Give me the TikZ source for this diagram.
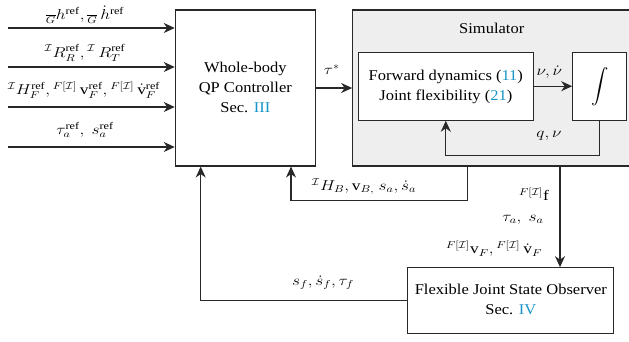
\documentclass[tikz,border=0pt]{standalone}
\usepackage{graphicx}
\usepackage{exscale}
\usepackage{fontspec}
\setmainfont{Liberation Serif}
\usetikzlibrary{arrows.meta,calc}
\definecolor{refblue}{RGB}{25,150,200}
\definecolor{simgray}{RGB}{238,238,238}
\definecolor{linec}{RGB}{40,40,40}
\newcommand{\rf}[1]{\textcolor{refblue}{#1}}
\newcommand{\cI}{\mathcal{I}}
\newcommand{\sx}[1]{\scalebox{1.2}[1]{#1}}
\newcommand{\tx}[1]{\scalebox{1.1}[1]{\begin{tabular}{@{}c@{}}#1\end{tabular}}}
\begin{document}
\begin{tikzpicture}[x=1pt,y=-1pt,
  every node/.style={font=\fontsize{15}{20}\selectfont, inner sep=0pt},
  box/.style={draw=linec, line width=1.1pt, fill=white, align=center},
  arr/.style={draw=linec, line width=1.1pt, -{Stealth[length=11pt,width=10pt,inset=3.5pt]}},
  lbl/.style={font=\fontsize{14.5}{18}\selectfont}]
\useasboundingbox (0,0) rectangle (629,341);
% blocks
\node[box, minimum width=140pt, minimum height=156pt] (ctrl) at (245.3,88) {\tx{Whole-body\\QP Controller\\Sec. \rf{III}}};
\node[box, fill=simgray, minimum width=292pt, minimum height=156pt] (sim) at (498.7,88) {};
\node (simt) at (491.7,29) {\tx{Simulator}};
\node[box, minimum width=175pt, minimum height=68pt] (fd) at (445.8,86.2) {\tx{Forward dynamics (\rf{11})\\Joint flexibility (\rf{21})}};
\node[box, minimum width=54pt, minimum height=68pt, font=\fontsize{16.5}{20}\selectfont] (int) at (599.7,86.2) {$\displaystyle\int$};
\node[box, minimum width=206pt, minimum height=65.6pt] (obs) at (510.8,300.5) {\tx{Flexible Joint State Observer\\Sec. \rf{IV}}};
% input coordinates
\coordinate (in1) at (8,28);
\coordinate (in2) at (8,67);
\coordinate (in3) at (8,107);
\coordinate (in4) at (8,147);
\draw[arr] (in1) -- (ctrl.west |- in1);
\draw[arr] (in2) -- (ctrl.west |- in2);
\draw[arr] (in3) -- (ctrl.west |- in3);
\draw[arr] (in4) -- (ctrl.west |- in4);
\node[lbl] (l1) at (85,15) {\sx{${}_{\overline{G}}h^{\mathrm{ref}},{}_{\overline{G}}\,\dot{h}^{\mathrm{ref}}$}};
\node[lbl] (l2) at (85,53) {\sx{${}^{\cI}R_R^{\mathrm{ref}},{}^{\cI}\,R_T^{\mathrm{ref}}$}};
\node[lbl] (l3) at (84,90) {\sx{${}^{\cI}H_F^{\mathrm{ref}},{}^{F[\cI]}\,\mathrm{v}_F^{\mathrm{ref}},{}^{F[\cI]}\,\dot{\mathrm{v}}_F^{\mathrm{ref}}$}};
\node[lbl] (l4) at (85,130) {\sx{$\tau_a^{\mathrm{ref}},\ s_a^{\mathrm{ref}}$}};
% controller -> simulator
\draw[arr] (ctrl.east) -- (sim.west);
\node[lbl] (tau) at (331.7,70) {\sx{$\tau^*$}};
% inside simulator
\draw[arr] (fd.east) -- (int.west);
\node[lbl] (nu) at (549.3,71.7) {\sx{$\nu, \dot{\nu}$}};
\draw[arr] (int.south) -- ++(0,35) -| (fd.south);
\node[lbl] (qnu) at (549,136) {\sx{$q, \nu$}};
% simulator -> controller
\coordinate (s1) at (467.3,200.7);
\coordinate (c1) at (291,200.7);
\draw[arr] (sim.south -| s1) -- (s1) -- (c1) -- (ctrl.south -| c1);
\node[lbl] (hb) at (364,186.7) {\sx{${}^{\cI}H_B, \mathrm{v}_{B,}\ s_a, \dot{s}_a$}};
% simulator -> observer
\coordinate (s2) at (560,200);
\draw[arr] (sim.south -| s2) -- (obs.north -| s2);
\node[lbl] (ff) at (534,194) {\sx{${}^{F[\cI]}\mathrm{f}$}};
\node[lbl] (tsa) at (523,220) {\sx{$\tau_a,\ s_a$}};
\node[lbl] (vf) at (494,249) {\sx{${}^{F[\cI]}\mathrm{v}_F,{}^{F[\cI]}\,\dot{\mathrm{v}}_F$}};
% observer -> controller
\coordinate (c2) at (200.7,300.5);
\draw[arr] (obs.west) -- (c2) -- (ctrl.south -| c2);
\node[lbl] (sf) at (323,283) {\sx{$s_f, \dot{s}_f, \tau_f$}};
\end{tikzpicture}
\end{document}
